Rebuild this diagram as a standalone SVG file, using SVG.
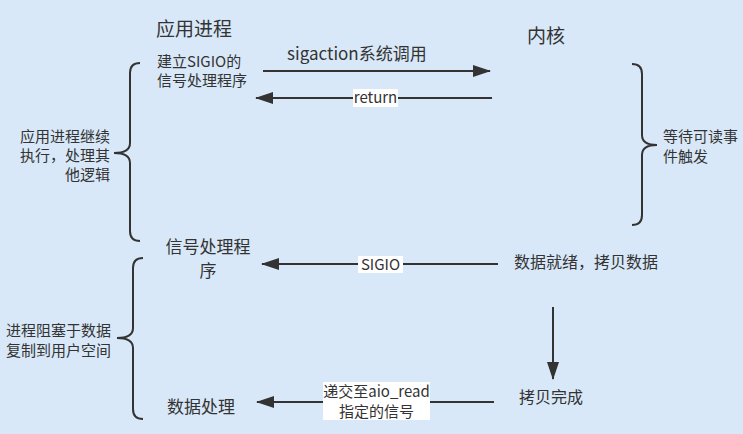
<svg xmlns="http://www.w3.org/2000/svg" width="743" height="434" viewBox="0 0 743 434">
<defs>
<style>
text{font-family:"Noto Sans CJK SC","Liberation Sans",sans-serif;fill:#333;}
.t15{font-size:15px;}
.t16{font-size:16px;}
.t17{font-size:17px;}
.t19{font-size:19px;}
.ln{stroke:#333;stroke-width:2;fill:none;}
.br{stroke:#333;stroke-width:2;fill:none;}
.lbl{fill:#fff;}
</style>
<marker id="ah" viewBox="0 0 18 12" refX="17" refY="6" markerWidth="18" markerHeight="12" markerUnits="userSpaceOnUse" orient="auto">
<path d="M0,0 L18,6 L0,12 Z" fill="#333"/>
</marker>
</defs>
<rect width="743" height="434" fill="#d8e8f8"/>

<g id="title-app"><text class="t19" x="156" y="36">应用进程</text></g>
<g id="title-kernel"><text class="t19" x="527" y="43">内核</text></g>

<g id="n-setup"><text class="t15" x="157" y="67">建立SIGIO的<tspan x="157" y="86">信号处理程序</tspan></text></g>
<g id="n-handler"><text class="t17" x="208" y="253" text-anchor="middle">信号处理程<tspan x="208" y="277">序</tspan></text></g>
<g id="n-process"><text class="t17" x="167" y="413">数据处理</text></g>
<g id="n-ready"><text class="t16" x="514" y="268">数据就绪，拷贝数据</text></g>
<g id="n-done"><text class="t16" x="519" y="403">拷贝完成</text></g>

<g id="n-left1"><text class="t15" x="110" y="142" text-anchor="end">应用进程继续<tspan x="110" y="161">执行，处理其</tspan><tspan x="110" y="180">他逻辑</tspan></text></g>
<g id="n-left2"><text class="t15" x="6" y="336">进程阻塞于数据<tspan x="6" y="356">复制到用户空间</tspan></text></g>
<g id="n-right"><text class="t15" x="663" y="142">等待可读事<tspan x="663" y="162">件触发</tspan></text></g>

<g id="braces">
<path class="br" d="M140,63 Q130,63 130,73 L130,143 Q130,153 114,153 Q130,153 130,163 L130,231 Q130,241 140,241"/>
<path class="br" d="M143,258 Q133,258 133,268 L133,328 Q133,338 117,338 Q133,338 133,348 L133,409 Q133,419 143,419"/>
<path class="br" d="M632,64 Q642,64 642,74 L642,135 Q642,145 657,145 Q642,145 642,155 L642,215 Q642,225 632,225"/>
</g>

<g id="connectors">
<line class="ln" x1="263" y1="71" x2="490" y2="71" marker-end="url(#ah)"/>
<text class="t17" x="287" y="60">sigaction系统调用</text>
<line class="ln" x1="492" y1="98" x2="256" y2="98" marker-end="url(#ah)"/>
<rect class="lbl" x="353" y="89" width="45" height="18"/>
<text class="t15" x="375.5" y="103" text-anchor="middle">return</text>
<line class="ln" x1="498" y1="264" x2="262" y2="264" marker-end="url(#ah)"/>
<rect class="lbl" x="358" y="256" width="45" height="17"/>
<text class="t15" x="380.5" y="270" text-anchor="middle">SIGIO</text>
<line class="ln" x1="553" y1="307" x2="553" y2="379" marker-end="url(#ah)"/>
<line class="ln" x1="494" y1="402" x2="257" y2="402" marker-end="url(#ah)"/>
<rect class="lbl" x="323" y="382" width="107" height="38"/>
<text class="t15" x="376.5" y="397" text-anchor="middle">递交至aio_read<tspan x="376.5" y="417">指定的信号</tspan></text>
</g>
</svg>
